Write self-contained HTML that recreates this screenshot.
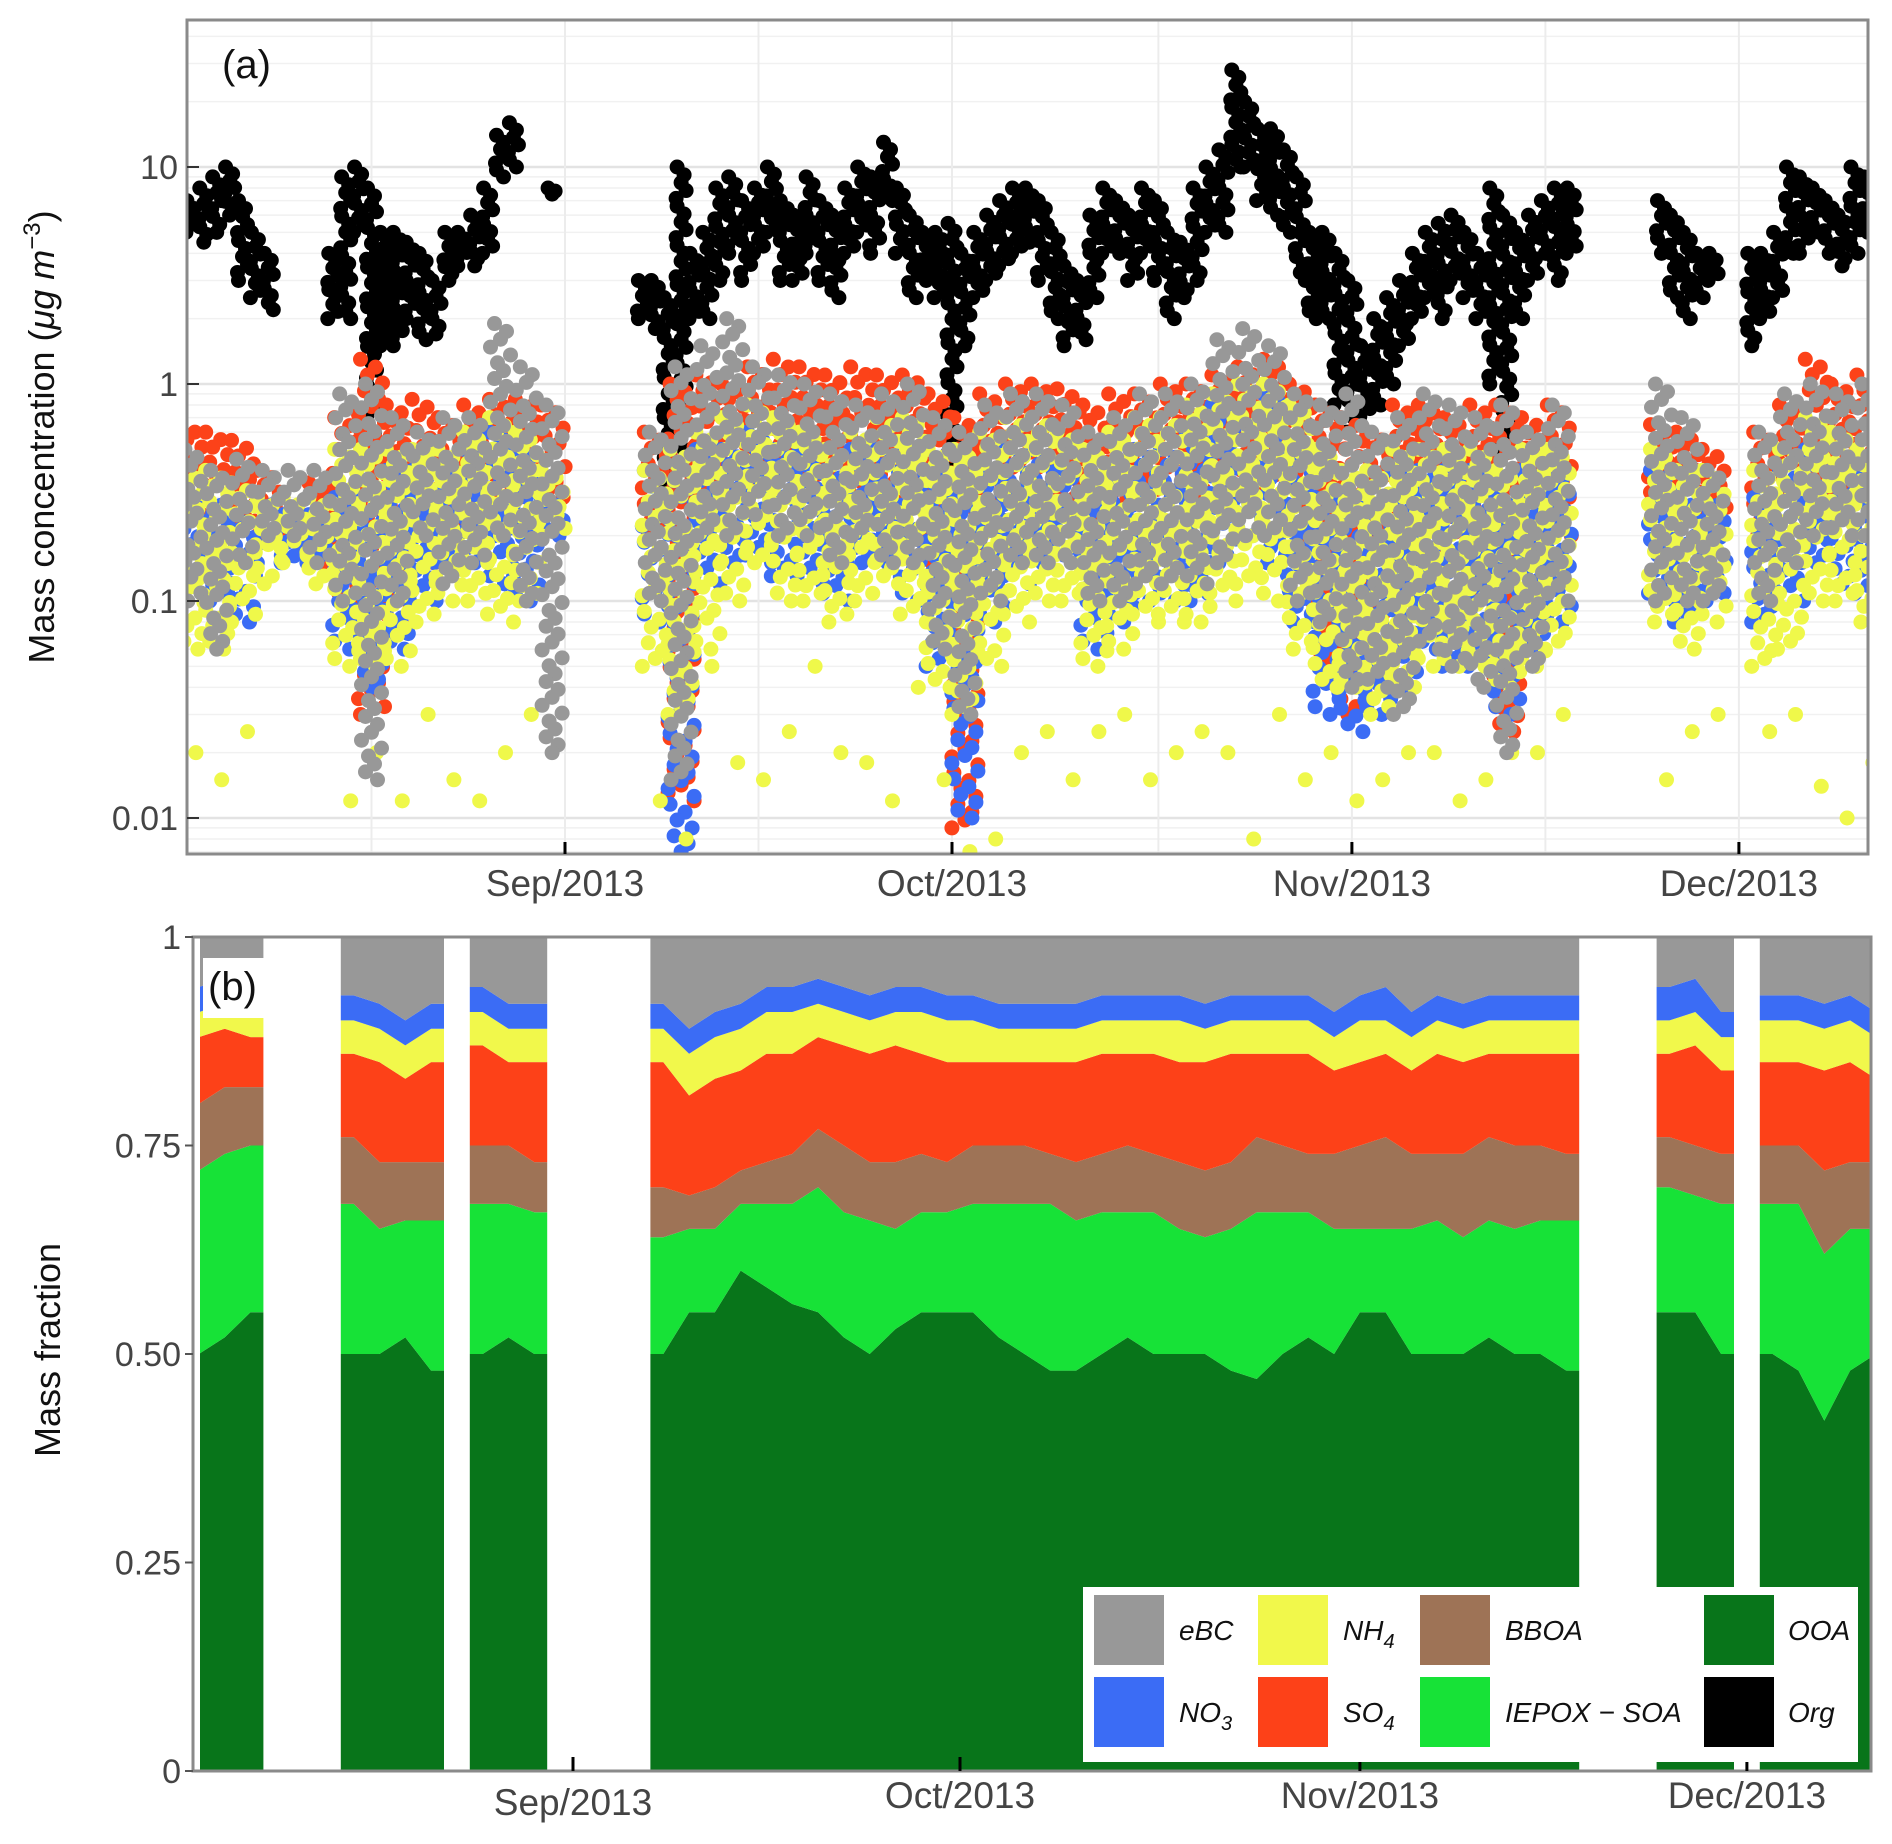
<!DOCTYPE html>
<html><head><meta charset="utf-8"><style>
html,body{margin:0;padding:0;background:#fff}
svg{display:block;font-family:"Liberation Sans","DejaVu Sans",sans-serif}
</style></head><body>
<svg id="chart" width="1892" height="1844" viewBox="0 0 1892 1844">
<defs>
<clipPath id="clipA"><rect x="187" y="20" width="1681" height="834"/></clipPath>
<clipPath id="clipB"><rect x="200" y="937" width="1671" height="834"/></clipPath>
</defs>
<g id="pa"></g>
<g id="pb"></g>
</svg>
<script>
// ---------- Panel (a) data : daily Org range (day 0 = 3 Aug 2013) ----------
const orgLo=[5,4.5,5,6,3,2.5,2.2,null,null,null,null,2,2,5,0.5,1.5,1.5,2,1.6,1.7,3,3.5,3.5,4,9,10,null,null,7.5,null,null,null,null,null,null,2,1.8,0.3,0.5,2,2,3,4,3,4,5,3,3,4,3,2.5,4,5,4,7,4,2.5,3,2.5,0.4,1.5,2.5,3,3.5,4,4.5,3,2,1.5,1.6,2.5,4,4,3,4,3,2,2.5,3,5,5,10,10,7,6,5,3,2,2,0.8,0.6,0.6,0.8,1,1.5,2,2.5,2,3,2.5,2,1,0.5,2,3,4,3,4,null,null,null,null,null,null,4,2.5,2,2.5,3,null,null,1.5,2,2.5,4,4,5,4,3.5,4,5];
const orgHi=[7,8,9,10,7,5,4,null,null,null,null,4,9,10,8,5,5,4.5,4,3,5,5,6,8,14,16,null,null,8,null,null,null,null,null,null,3,3,2.5,10,4,5,8,9,7,8,10,7,6,9,7,6,8,10,9,13,8,6,5,5,5.5,4,5,6,7,8,8,7,5,3.5,3,6,8,7,6,8,7,5,4.5,8,10,12,28,20,15,15,12,9,5,5,4,3,1.5,2,2.5,3,4,5,5.5,6,5,4,8,6,5,6,7,8,8,null,null,null,null,null,null,7,6,5,4,4,null,null,4,4,5,10,9,8,7,6,10,9];
// ---------- Panel (a) data : 2-day ranges of inorganics and eBC ----------
const so4Lo=[.25,.25,.22,.2,.2,.15,.1,.03,.08,.15,.2,.2,.25,.3,.3,null,null,null,.2,.012,.25,.3,.3,.3,.3,.3,.3,.3,.25,.15,.009,.2,.3,.3,.3,.2,.25,.3,.3,.3,.35,.4,.35,.2,.05,.03,.05,.1,.15,.15,.1,.025,.15,.2,null,null,null,.25,.25,.25,null,.2,.3,.3,.3,.3];
const so4Hi=[.65,.6,.55,.4,.3,.35,.7,1.3,.8,.85,.7,.8,.85,.85,.8,null,null,null,.6,1.0,1.1,1.0,1.2,1.3,1.2,1.1,1.2,1.1,1.1,.9,.7,.9,1.0,1.0,.95,.8,.9,.9,1.0,1.0,1.1,1.2,1.3,1.0,.8,.7,.6,.8,.8,.7,.8,.8,.7,.8,null,null,null,.65,.6,.5,null,.6,.8,1.3,1.0,1.1];
const no3Lo=[.12,.1,.08,.15,.15,.15,.06,.04,.06,.1,.15,.15,.12,.1,.2,null,null,null,.08,.007,.12,.15,.15,.12,.12,.1,.15,.15,.1,.05,.01,.08,.12,.15,.15,.06,.08,.1,.1,.1,.15,.2,.15,.08,.03,.025,.03,.04,.06,.05,.05,.03,.06,.08,null,null,null,.1,.08,.1,null,.08,.1,.15,.12,.1];
const no3Hi=[.3,.3,.25,.3,.25,.25,.3,.3,.4,.4,.4,.5,.6,.5,.3,null,null,null,.4,.5,.5,.5,.6,.5,.5,.4,.5,.5,.5,.4,.3,.4,.5,.5,.4,.3,.4,.5,.5,.6,.8,1.0,.9,.5,.3,.3,.3,.4,.4,.4,.4,.3,.4,.4,null,null,null,.4,.3,.3,null,.3,.4,.5,.4,.4];
const nh4Lo=[.06,.06,.08,.12,.15,.12,.05,.05,.05,.08,.1,.1,.08,.1,.2,null,null,null,.05,.03,.06,.1,.15,.1,.1,.08,.1,.12,.08,.04,.03,.05,.08,.1,.1,.05,.06,.08,.08,.08,.1,.12,.1,.06,.04,.04,.03,.04,.05,.05,.05,.04,.05,.06,null,null,null,.08,.06,.08,null,.05,.06,.1,.1,.08];
const nh4Hi=[.4,.4,.35,.3,.3,.3,.5,.5,.5,.5,.5,.6,.7,.6,.4,null,null,null,.4,.5,.6,.7,.8,.7,.6,.5,.6,.7,.7,.5,.5,.6,.7,.7,.6,.5,.6,.7,.7,.8,.9,1.0,1.0,.8,.5,.4,.4,.5,.5,.5,.5,.4,.5,.5,null,null,null,.5,.4,.4,null,.4,.5,.7,.6,.5];
const nh4Out=[.02,.015,.025,null,null,null,.012,.02,.012,.03,.015,.012,.02,.03,.25,null,null,null,.012,.008,.05,.018,.015,.025,.05,.02,.018,.012,.04,.015,.007,.008,.02,.025,.015,.025,.03,.015,.02,.025,.02,.008,.03,.015,.02,.012,.015,.02,.02,.012,.015,.02,.02,.03,null,null,null,.015,.025,.03,null,.025,.03,.014,.01,.018];
const ebcLo=[.1,.06,.15,.2,.2,.15,.1,.015,.1,.2,.12,.15,.2,.1,.02,null,null,null,.1,.015,.2,.2,.25,.2,.2,.15,.2,.15,.15,.06,.03,.1,.15,.15,.15,.1,.1,.12,.12,.12,.15,.2,.2,.1,.08,.04,.04,.03,.06,.05,.04,.02,.05,.1,null,null,null,.1,.1,.1,null,.1,.15,.2,.2,.2];
const ebcHi=[.5,.4,.45,.4,.4,.4,.9,1.0,.7,.6,.7,.7,1.9,1.2,.8,null,null,null,.6,1.2,1.5,2.0,1.2,1.1,1.0,.9,.8,.9,1.0,.7,.6,.8,.9,.9,.8,.6,.7,.9,.9,1.0,1.6,1.8,1.5,.9,.8,.9,.6,.7,.9,.8,.7,.8,.6,.8,null,null,null,1.0,.7,.4,null,.6,.9,1.0,.9,1.0];
// ---------- Panel (b) data : 2-day mass fractions ----------
const ooaF=[.5,.52,.55,null,null,null,.5,.5,.52,.48,null,.5,.52,.5,null,null,null,null,.5,.55,.55,.6,.58,.56,.55,.52,.5,.53,.55,.55,.55,.52,.5,.48,.48,.5,.52,.5,.5,.5,.48,.47,.5,.52,.5,.55,.55,.5,.5,.5,.52,.5,.5,.48,null,null,null,.55,.55,.5,null,.5,.48,.42,.48,.5];
const iepoxF=[.22,.22,.2,null,null,null,.18,.15,.14,.18,null,.18,.16,.17,null,null,null,null,.14,.1,.1,.08,.1,.12,.15,.15,.16,.12,.12,.12,.13,.16,.18,.2,.18,.17,.15,.17,.15,.14,.17,.2,.17,.15,.15,.1,.1,.15,.16,.14,.14,.15,.16,.18,null,null,null,.15,.14,.18,null,.18,.2,.2,.17,.15];
const bboaF=[.08,.08,.07,null,null,null,.08,.08,.07,.07,null,.07,.07,.06,null,null,null,null,.06,.04,.05,.04,.05,.06,.07,.08,.07,.08,.07,.06,.07,.07,.07,.06,.07,.07,.08,.07,.08,.08,.08,.09,.08,.07,.09,.1,.11,.09,.08,.1,.1,.1,.09,.08,null,null,null,.06,.06,.06,null,.07,.07,.1,.08,.08];
const so4F=[.08,.07,.06,null,null,null,.1,.12,.1,.12,null,.12,.1,.12,null,null,null,null,.15,.12,.13,.12,.13,.12,.11,.12,.13,.14,.12,.12,.1,.1,.1,.11,.12,.12,.11,.12,.12,.13,.13,.1,.11,.12,.1,.1,.1,.1,.12,.11,.1,.11,.11,.12,null,null,null,.1,.12,.1,null,.1,.1,.12,.12,.1];
const nh4F=[.03,.03,.03,null,null,null,.04,.04,.04,.04,null,.04,.04,.04,null,null,null,null,.04,.05,.05,.05,.05,.05,.04,.04,.04,.04,.05,.05,.05,.04,.04,.04,.04,.04,.04,.04,.05,.04,.04,.04,.04,.04,.04,.05,.04,.04,.04,.04,.04,.04,.04,.04,null,null,null,.04,.04,.04,null,.05,.05,.05,.05,.05];
const no3F=[.03,.03,.03,null,null,null,.03,.03,.03,.03,null,.03,.03,.03,null,null,null,null,.03,.03,.03,.03,.03,.03,.03,.03,.03,.03,.03,.03,.03,.03,.03,.03,.03,.03,.03,.03,.03,.03,.03,.03,.03,.03,.03,.03,.04,.03,.03,.03,.03,.03,.03,.03,null,null,null,.04,.04,.03,null,.03,.03,.03,.03,.03];
const monthLabels=["Sep/2013","Oct/2013","Nov/2013","Dec/2013"];
const monthDays=[29,59,90,120];
const yTicksA=[0.01,0.1,1,10];
const yTickLabelsA=["0.01","0.1","1","10"];
const yTicksB=[0,0.25,0.5,0.75,1];
const yTickLabelsB=["0","0.25","0.50","0.75","1"];

const NS="http://www.w3.org/2000/svg";
function mk(parent,tag,attrs,text){const e=document.createElementNS(NS,tag);for(const k in attrs)e.setAttribute(k,attrs[k]);if(text!==undefined)e.textContent=text;parent.appendChild(e);return e;}
const A={l:187,r:1868,t:20,b:854};
const B={l:193,r:1871,t:937,b:1771};
const xA=d=>565+(d-29)*12.9;
const yA=v=>384-217*Math.log10(v);
const xB=d=>573+(d-29)*12.9;
const yB=f=>1771-834*f;

const pa=document.getElementById('pa');
const pb=document.getElementById('pb');
let g=mk(pa,'g',{});


for(let e=-3;e<=1;e++)for(let m=1;m<=9;m++){const v=m*Math.pow(10,e);const y=yA(v);if(y<A.t||y>A.b)continue;
 mk(g,'line',{x1:A.l,x2:A.r,y1:y,y2:y,stroke:m===1?'#e3e3e3':'#f1f1f1','stroke-width':m===1?2.5:1.5});}
[14,29,44,59,75,90,105,120].forEach(d=>{const x=xA(d);mk(g,'line',{x1:x,x2:x,y1:A.t,y2:A.b,stroke:'#ececec','stroke-width':2});});
function cloud(group,xs,lo,hi,color,jit){
 for(let i=0;i<lo.length;i++){if(lo[i]==null||hi[i]==null)continue;
  const x=xs(i);const y1=yA(hi[i]),y2=yA(lo[i]);const n=Math.max(2,Math.ceil((y2-y1)/8));
  for(let k=0;k<=n;k++){const y=y1+(y2-y1)*k/n;const off=jit[k%jit.length];
   mk(group,'circle',{cx:x+off,cy:y,r:7.5,fill:color});}}
}
const jit2=[-11,4,-4,11,-7,7,0,-13,13];
const dots=mk(pa,'g',{'clip-path':'url(#clipA)'});
const sg=(name)=>{const e=mk(dots,'g',{});return e;};
const gOrg=sg('series-org');cloud(gOrg,i=>xA(i),orgLo,orgHi,'#000',[-4,3,0,5,-5]);
const gSo4=sg('series-so4');cloud(gSo4,i=>xA(2*i),so4Lo,so4Hi,'#fc4219',jit2);
const gNo3=sg('series-no3');cloud(gNo3,i=>xA(2*i),no3Lo,no3Hi,'#3b6cf5',jit2);
const gNh4=sg('series-nh4');cloud(gNh4,i=>xA(2*i),nh4Lo,nh4Hi,'#eff84a',jit2);
nh4Out.forEach((v,i)=>{if(v==null)return;mk(gNh4,'circle',{cx:xA(2*i)+5,cy:yA(v),r:7.5,fill:'#eff84a'});});
const gEbc=sg('series-ebc');cloud(gEbc,i=>xA(2*i),ebcLo,ebcHi,'#989898',[-6,6,0,-10,10,-3,3]);
mk(pa,'rect',{x:A.l,y:A.t,width:A.r-A.l,height:A.b-A.t,fill:'none',stroke:'#8a8a8a','stroke-width':3});
yTicksA.forEach((v,i)=>{const y=yA(v);mk(pa,'line',{x1:A.l,x2:A.l+12,y1:y,y2:y,stroke:'#333','stroke-width':2});
 const t=mk(pa,'text',{x:178,y:y+12,'text-anchor':'end','font-size':34,fill:'#444'},yTickLabelsA[i]);
 });
monthDays.forEach((d,i)=>{const x=xA(d);mk(pa,'line',{x1:x,x2:x,y1:A.b-12,y2:A.b,stroke:'#000','stroke-width':3});
 const t=mk(pa,'text',{x:x,y:896,'text-anchor':'middle','font-size':37,fill:'#444'},monthLabels[i]);
 });
let ta=mk(pa,'text',{x:222,y:78,'font-size':40,fill:'#111'},'(a)');

let yt=mk(pa,'text',{transform:'translate(54,437) rotate(-90)','text-anchor':'middle','font-size':36,fill:'#111'});

yt.innerHTML='Mass concentration (<tspan font-style="italic">μg m</tspan><tspan font-size="24" dy="-14">−3</tspan><tspan dy="14">)</tspan>';

// ---------- panel b ----------
const layers=[['ooa',ooaF,'#08751a'],['iepox',iepoxF,'#17e237'],['bboa',bboaF,'#9e7356'],['so4',so4F,'#fd4118'],['nh4',nh4F,'#f1f84b'],['no3',no3F,'#3b6cf5'],['ebc',null,'#989898']];
const segs=[];let cur=null;
for(let i=0;i<ooaF.length;i++){if(ooaF[i]==null){if(cur){segs.push(cur);cur=null;}continue;}if(!cur)cur=[];cur.push(i);}
if(cur)segs.push(cur);
const areas=mk(pb,'g',{'clip-path':'url(#clipB)'});
segs.forEach((seg)=>{
 const gs=mk(areas,'g',{});
 let bottom=seg.map(()=>0);
 layers.forEach(([name,arr,col])=>{
  const top=seg.map((i,j)=>arr?bottom[j]+arr[i]:1);
  const xs=seg.map(i=>xB(2*i));
  const xStart=xB(2*seg[0]-1),xEnd=xB(2*seg[seg.length-1]+1);
  let pts=[[xStart,yB(top[0])]];
  xs.forEach((x,j)=>pts.push([x,yB(top[j])]));
  pts.push([xEnd,yB(top[top.length-1])]);
  pts.push([xEnd,yB(bottom[bottom.length-1])]);
  for(let j=xs.length-1;j>=0;j--)pts.push([xs[j],yB(bottom[j])]);
  pts.push([xStart,yB(bottom[0])]);
  const p=mk(gs,'polygon',{points:pts.map(q=>q.join(',')).join(' '),fill:col});
  
  
  bottom=top;
 });
});
mk(pb,'rect',{x:B.l,y:B.t,width:B.r-B.l,height:B.b-B.t,fill:'none',stroke:'#8a8a8a','stroke-width':3});
yTicksB.forEach((v,i)=>{const y=yB(v);mk(pb,'line',{x1:B.l-8,x2:B.l,y1:y,y2:y,stroke:'#555','stroke-width':2});
 const t=mk(pb,'text',{x:181,y:y+12,'text-anchor':'end','font-size':34,fill:'#444'},yTickLabelsB[i]);
 });
monthDays.forEach((d,i)=>{const x=xB(d);mk(pb,'line',{x1:x,x2:x,y1:B.b-14,y2:B.b,stroke:'#000','stroke-width':3});
 const t=mk(pb,'text',{x:x,y:i===0?1815:1808,'text-anchor':'middle','font-size':37,fill:'#444'},monthLabels[i]);
 });
mk(pb,'rect',{x:203,y:958,width:70,height:60,fill:'#fff'});
let tb=mk(pb,'text',{x:208,y:1000,'font-size':40,fill:'#111'},'(b)');

let yt2=mk(pb,'text',{transform:'translate(60,1350) rotate(-90)','text-anchor':'middle','font-size':36,fill:'#111'},'Mass fraction');


const lg=mk(pb,'g',{});


mk(lg,'rect',{x:1083,y:1587,width:775,height:175,fill:'#fff'});
const legItems=[['eBC','#989898',0,0],['NH','#f1f84b',1,0,'4'],['BBOA','#9e7356',2,0],['OOA','#08751a',3,0],['NO','#3b6cf5',0,1,'3'],['SO','#fd4118',1,1,'4'],['IEPOX − SOA','#17e237',2,1],['Org','#000',3,1]];
const colX=[1094,1258,1420,1704],colT=[1179,1343,1505,1788],rowY=[1595,1677];
legItems.forEach(it=>{const gi=mk(lg,'g',{});
 mk(gi,'rect',{x:colX[it[2]],y:rowY[it[3]],width:70,height:70,fill:it[1]});
 const t=mk(gi,'text',{x:colT[it[2]],y:rowY[it[3]]+45,'font-size':28,'font-style':'italic',fill:'#111'},it[0]);
 if(it[4]){mk(t,'tspan',{'font-size':20,dy:8},it[4]);}
});
</script>
</body></html>
